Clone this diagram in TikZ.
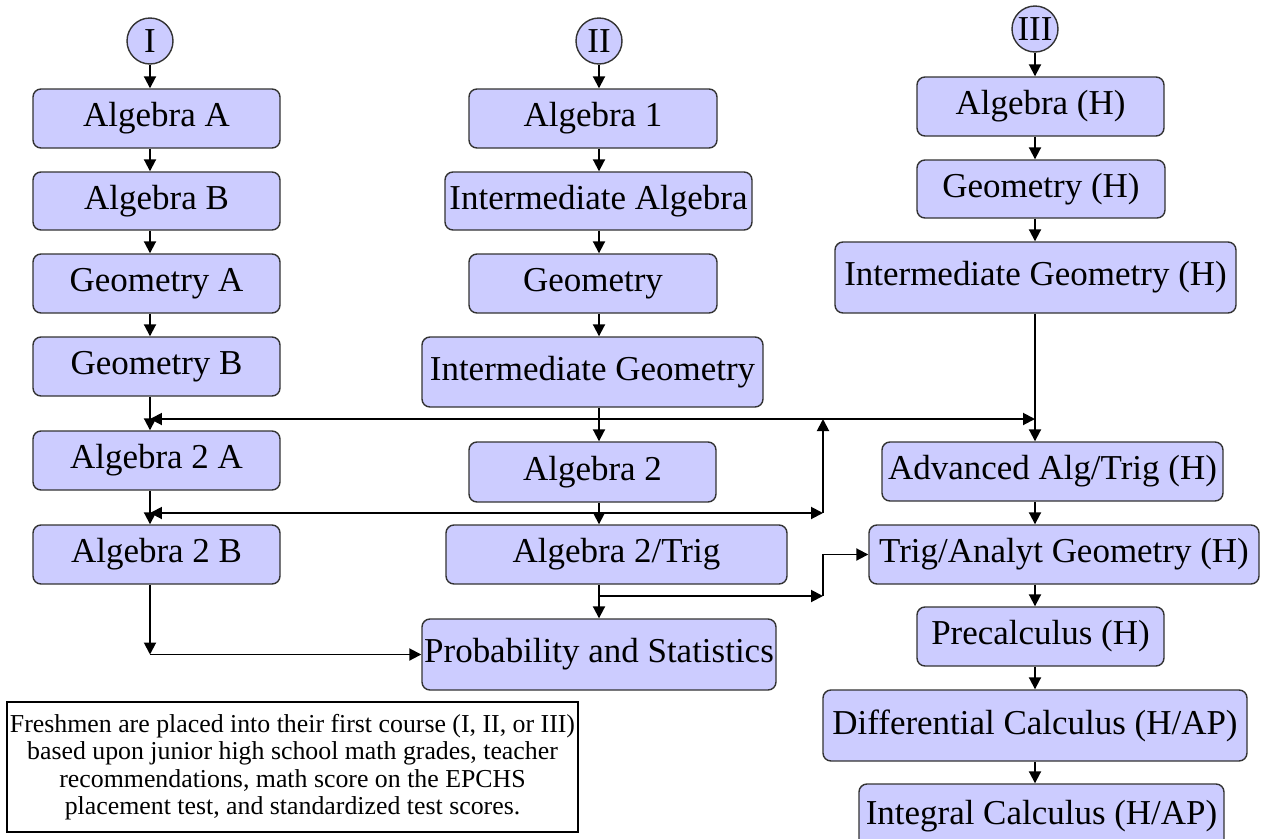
\documentclass[tikz,border=0pt]{standalone}
\usepackage{fontspec}
\setmainfont{Liberation Serif}
\usetikzlibrary{arrows.meta}

\begin{document}
\begin{tikzpicture}
[x=0.02cm,y=-0.02cm,
% Styles
course/.style={rectangle,rounded corners=0.16cm,draw=black!80,line width=0.8pt,
  fill=coursefill,inner sep=0pt,font=\fontsize{19.9}{24}\selectfont},
track/.style={circle,draw=black!80,line width=0.8pt,fill=coursefill,
  minimum size=0.92cm,inner sep=0pt,font=\fontsize{19.9}{24}\selectfont},
flow/.style={line width=1.1pt,-{Triangle[length=0.24cm,width=0.24cm]}},
note text/.style={draw,line width=0.6pt,align=center,inner sep=0pt,
  font=\fontsize{14.7}{15.6}\selectfont}]
% Local definitions (corners in pixels)
\def\course#1#2#3#4#5#6{\node[course,minimum width={(#4-#2)*0.02cm},
  minimum height={(#5-#3)*0.02cm}] (#1) at ({(#2+#4)/2},{(#3+#5)/2}) {#6};}
% Colors
\definecolor{coursefill}{RGB}{204,204,255}

\useasboundingbox (0,0) rectangle (1262,839);
\clip (0,0) rectangle (1262,839);

% Track I
\node[track] (c1) at (150,41) {I};
\course{aa}{33}{89}{280}{148}{Algebra A}
\course{ab}{33}{172}{280}{230}{Algebra B}
\course{ga}{33}{254}{280}{313}{Geometry A}
\course{gb}{33}{337}{280}{396}{Geometry B}
\course{a2a}{33}{431}{280}{490}{Algebra 2 A}
\course{a2b}{33}{525}{280}{584}{Algebra 2 B}

% Track II
\node[track] (c2) at (599,41) {II};
\course{a1}{469}{89}{717}{148}{Algebra 1}
\course{ia}{445}{172}{752}{230}{Intermediate Algebra}
\course{geo}{469}{254}{717}{313}{Geometry}
\course{ig}{422}{337}{763}{407}{Intermediate Geometry}
\course{a2}{469}{442}{716}{502}{Algebra 2}
\course{a2t}{446}{525}{787}{584}{Algebra 2/Trig}
\course{ps}{422}{619}{776}{690}{Probability and Statistics}

% Track III
\node[track] (c3) at (1035,29) {III};
\course{ah}{917}{77}{1164}{136}{Algebra (H)}
\course{gh}{917}{160}{1165}{218}{Geometry (H)}
\course{igh}{835}{242}{1236}{313}{Intermediate Geometry (H)}
\course{aat}{882}{442}{1223}{501}{Advanced Alg/Trig (H)}
\course{tag}{869}{525}{1259}{584}{Trig/Analyt Geometry (H)}
\course{pch}{917}{607}{1164}{666}{Precalculus (H)}
\course{dc}{823}{690}{1247}{761}{Differential Calculus (H/AP)}
\course{ic}{859}{784}{1224}{848}{Integral Calculus (H/AP)}

% Placement note
\node[note text,minimum width={571*0.02cm},minimum height={130*0.02cm}] (note) at (292.5,767)
{Freshmen are placed into their first course (I, II, or III)\\
based upon junior high school math grades, teacher\\
recommendations, math score on the EPCHS\\
placement test, and standardized test scores.};

% Straight connectors
\draw[flow] (c1.south) -- (c1 |- aa.north);
\draw[flow] (c2.south) -- (c2 |- a1.north);
\draw[flow] (c3.south) -- (c3 |- ah.north);
\foreach \a/\b in {aa/ab,ab/ga,ga/gb,gb/a2a,a2a/a2b}
\draw[flow] (c1 |- \a.south) -- (c1 |- \b.north);
\foreach \a/\b in {a1/ia,ia/geo,geo/ig,ig/a2,a2/a2t,a2t/ps}
\draw[flow] (c2 |- \a.south) -- (c2 |- \b.north);
\foreach \a/\b in {ah/gh,gh/igh,igh/aat,aat/tag,tag/pch,pch/dc,dc/ic}
\draw[flow] (c3 |- \a.south) -- (c3 |- \b.north);

% Cross connectors
\coordinate (upper) at (599,419);
\coordinate (lower) at (599,513);
\coordinate (rise) at (823,513);
\coordinate (branch) at (599,596);
\coordinate (bend) at (823,596);
\draw[flow] (upper) -- (c1 |- upper);
\draw[flow] (upper) -- (c3 |- upper);
\draw[flow] (lower) -- (c1 |- lower);
\draw[flow] (lower) -- (rise);
\draw[flow] (rise) -- (rise |- upper);
\draw[flow] (branch) -- (bend);
\draw[flow] (bend) |- (tag.west);
\draw[flow] (c1 |- a2b.south) -- (c1 |- ps.west);
\draw[flow] (c1 |- ps.west) -- (ps.west);
\end{tikzpicture}
\end{document}
